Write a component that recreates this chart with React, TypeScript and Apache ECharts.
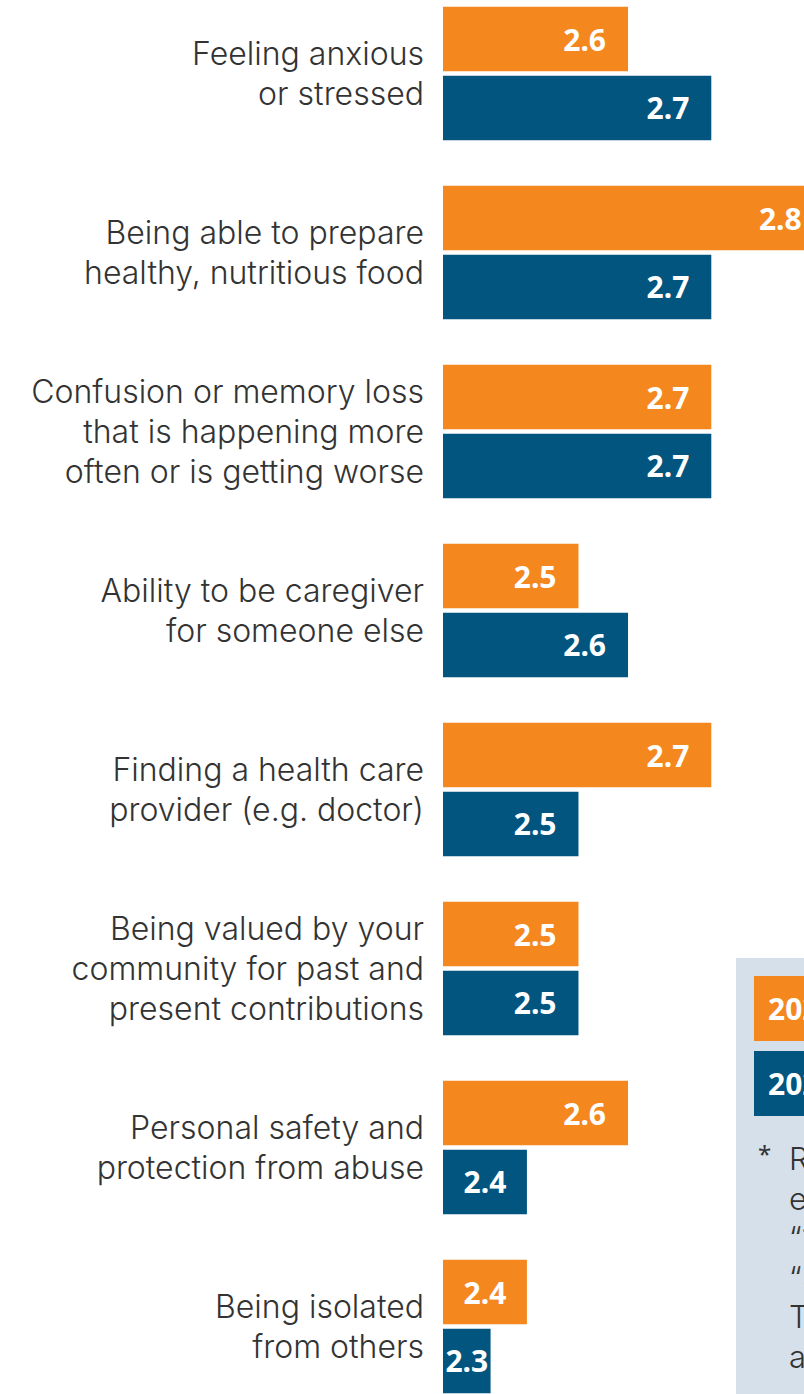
import React, { useEffect, useRef } from "react";
import * as echarts from "echarts";

const categories = [
  "Feeling anxious\nor stressed",
  "Being able to prepare\nhealthy, nutritious food",
  "Confusion or memory loss\nthat is happening more\noften or is getting worse",
  "Ability to be caregiver\nfor someone else",
  "Finding a health care\nprovider (e.g. doctor)",
  "Being valued by your\ncommunity for past and\npresent contributions",
  "Personal safety and\nprotection from abuse",
  "Being isolated\nfrom others",
];
const seriesNames = ["2023", "2020"];
const valuesNew = [2.552, 2.848, 2.678, 2.477, 2.678, 2.477, 2.552, 2.399];
const valuesOld = [2.678, 2.678, 2.678, 2.552, 2.477, 2.477, 2.399, 2.344];
const footnoteLines = [
  "Respondents rated each",
  "each item on a scale from",
  "“1” (not a problem) to",
  "“5” (a serious problem).",
  "The numbers shown",
  "are average scores.",
];

const ORANGE = "#F5871F";
const BLUE = "#02557F";
const LABEL_FONT = "Inter, 'Noto Sans', sans-serif";
const NUM_FONT = "'Noto Sans', sans-serif";
const AXIS_MIN = 2.272;
const AXIS_MAX = 2.9;

// the chart canvas is larger than the page (shifted up, wider to the right),
// so that the reference crop is reproduced; the outer box clips it
const OFFSET_Y = 16;
const CHART_H = 1432;
const CHART_W = 858;

const buildData = (vals: number[]) =>
  vals.map((v) => (v < 2.41 ? { value: v, label: { position: "inside" } } : { value: v }));

export default function App() {
  const ref = useRef<HTMLDivElement>(null);
  useEffect(() => {
    if (!ref.current) return;
    const chart = echarts.init(ref.current, null, { renderer: "svg" });
    const barLabel = {
      show: true,
      position: "insideRight",
      distance: 22,
      color: "#ffffff",
      fontSize: 30,
      fontWeight: "bold",
      fontFamily: NUM_FONT,
      formatter: (p: any) => (Math.round(p.value * 10) / 10).toFixed(1),
    };
    chart.setOption({
      animation: false,
      backgroundColor: "#ffffff",
      grid: { left: 443, right: 0, top: 0, bottom: 0, containLabel: false },
      xAxis: { type: "value", min: AXIS_MIN, max: AXIS_MAX, show: false },
      yAxis: {
        type: "category",
        data: categories,
        inverse: true,
        axisLine: { show: false },
        axisTick: { show: false },
        splitLine: { show: false },
        axisLabel: {
          margin: 19,
          fontSize: 32,
          fontWeight: 300,
          lineHeight: 40,
          color: "#333333",
          fontFamily: LABEL_FONT,
          align: "right",
        },
      },
      legend: {
        orient: "vertical",
        left: 749,
        top: 976 + OFFSET_Y,
        padding: 0,
        itemGap: 10,
        itemWidth: 0,
        itemHeight: 0,
        icon: "rect",
        selectedMode: false,
        z: 5,
        data: [
          { name: seriesNames[0], textStyle: { backgroundColor: ORANGE } },
          { name: seriesNames[1], textStyle: { backgroundColor: BLUE } },
        ],
        textStyle: {
          color: "#ffffff",
          fontSize: 30,
          fontWeight: "bold",
          fontFamily: NUM_FONT,
          lineHeight: 35,
          padding: [15, 60, 15, 14],
        },
      },
      graphic: [
        {
          type: "rect",
          z: 0,
          shape: { x: 736, y: 958 + OFFSET_Y, width: 200, height: 500 },
          style: { fill: "#D5E0EB" },
        },
        {
          type: "text",
          z: 1,
          style: { x: 758, y: 1141 + OFFSET_Y, text: "*", font: `24px ${NUM_FONT}`, fill: "#333333" },
        },
        {
          type: "text",
          z: 1,
          style: {
            x: 789,
            y: 1139 + OFFSET_Y,
            text: footnoteLines.join("\n"),
            font: `300 31px ${LABEL_FONT}`,
            lineHeight: 39.5,
            fill: "#333333",
            verticalAlign: "top",
          },
        },
      ],
      series: [
        {
          name: seriesNames[0],
          type: "bar",
          data: buildData(valuesNew),
          barWidth: 64.6,
          barGap: "6.7%",
          itemStyle: { color: ORANGE },
          label: barLabel,
        },
        {
          name: seriesNames[1],
          type: "bar",
          data: buildData(valuesOld),
          barWidth: 64.6,
          barGap: "6.7%",
          itemStyle: { color: BLUE },
          label: barLabel,
        },
      ],
    });
    return () => chart.dispose();
  }, []);
  return (
    <div
      style={{
        position: "absolute",
        left: 0,
        top: 0,
        width: 804,
        height: 1394,
        overflow: "hidden",
        background: "#ffffff",
      }}
    >
      <div
        ref={ref}
        style={{ position: "absolute", left: 0, top: -OFFSET_Y, width: CHART_W, height: CHART_H }}
      />
    </div>
  );
}
